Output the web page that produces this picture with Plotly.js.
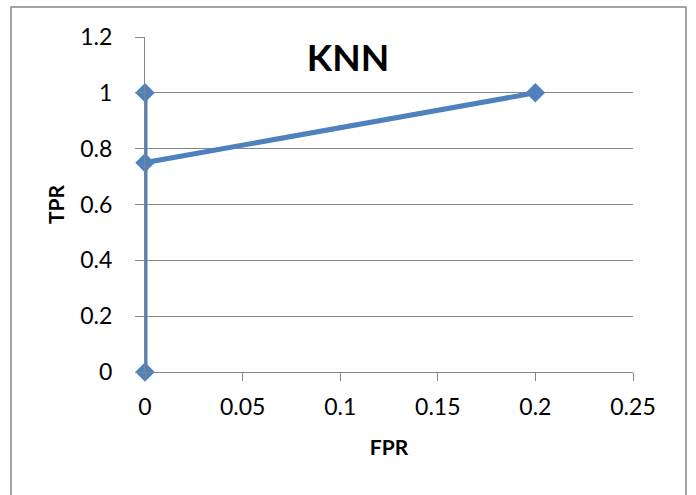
<!DOCTYPE html>
<html>
<head>
<meta charset="utf-8">
<script src="https://cdn.plot.ly/plotly-3.0.1.min.js"></script>
<style>
  html, body { margin: 0; padding: 0; background: #fff; }
  #chart { width: 696px; height: 495px; }
</style>
</head>
<body>
<div id="chart"></div>
<script>
// ROC points for the KNN classifier
const fpr = [0, 0, 0, 0.2];
const tpr = [0, 1, 0.75, 1];

const xTicks = [0, 0.05, 0.1, 0.15, 0.2, 0.25];
const xTickText = ['0', '0.05', '0.1', '0.15', '0.2', '0.25'];
const yTicks = [0, 0.2, 0.4, 0.6, 0.8, 1, 1.2];
const yTickText = ['0', '0.2', '0.4', '0.6', '0.8', '1', '1.2'];

const blue = '#4F81BD';
const grid = '#868686';
const font = 'Lato, "Open Sans", sans-serif';

const trace = {
  x: fpr,
  y: tpr,
  type: 'scatter',
  mode: 'lines+markers',
  line: { color: blue, width: 5 },
  marker: { symbol: 'diamond', size: 15, color: blue },
  cliponaxis: false,
  hoverinfo: 'x+y'
};

const layout = {
  width: 696,
  height: 495,
  paper_bgcolor: '#fff',
  plot_bgcolor: '#fff',
  margin: { l: 145, r: 63, t: 37, b: 123 },
  showlegend: false,
  font: { family: font, color: '#000' },
  title: {
    text: '<b>KNN</b>',
    font: { family: font, size: 37, color: '#000' },
    xref: 'container', x: 0.5, xanchor: 'center',
    yref: 'container', y: 0.883, yanchor: 'middle'
  },
  xaxis: {
    range: [0, 0.25],
    tickvals: xTicks,
    ticktext: xTickText,
    showgrid: false,
    zeroline: false,
    showline: true,
    linecolor: grid,
    linewidth: 1,
    ticks: 'outside',
    ticklen: 8,
    tickcolor: grid,
    tickfont: { family: font, size: 23, color: '#000' },
    ticklabelstandoff: 6,
    title: { text: '<b>FPR</b>', font: { family: font, size: 21, color: '#000' }, standoff: 21 },
    automargin: false
  },
  yaxis: {
    range: [0, 1.2],
    tickvals: yTicks,
    ticktext: yTickText,
    showgrid: true,
    gridcolor: grid,
    gridwidth: 1,
    zeroline: false,
    showline: true,
    linecolor: grid,
    linewidth: 1,
    ticks: 'outside',
    ticklen: 9,
    tickcolor: grid,
    tickfont: { family: font, size: 23, color: '#000' },
    ticklabelstandoff: 18,
    title: { text: '<b>TPR</b>', font: { family: font, size: 21, color: '#000' }, standoff: 9 },
    automargin: false
  },
  shapes: [{
    type: 'rect',
    xref: 'paper', yref: 'paper',
    x0: -0.2746, x1: 1.1086,
    y0: -0.373, y1: 1.0896,
    line: { color: grid, width: 1.5 },
    fillcolor: 'rgba(0,0,0,0)',
    layer: 'below'
  }]
};

Plotly.newPlot('chart', [trace], layout, { displayModeBar: false, staticPlot: true });
</script>
</body>
</html>
